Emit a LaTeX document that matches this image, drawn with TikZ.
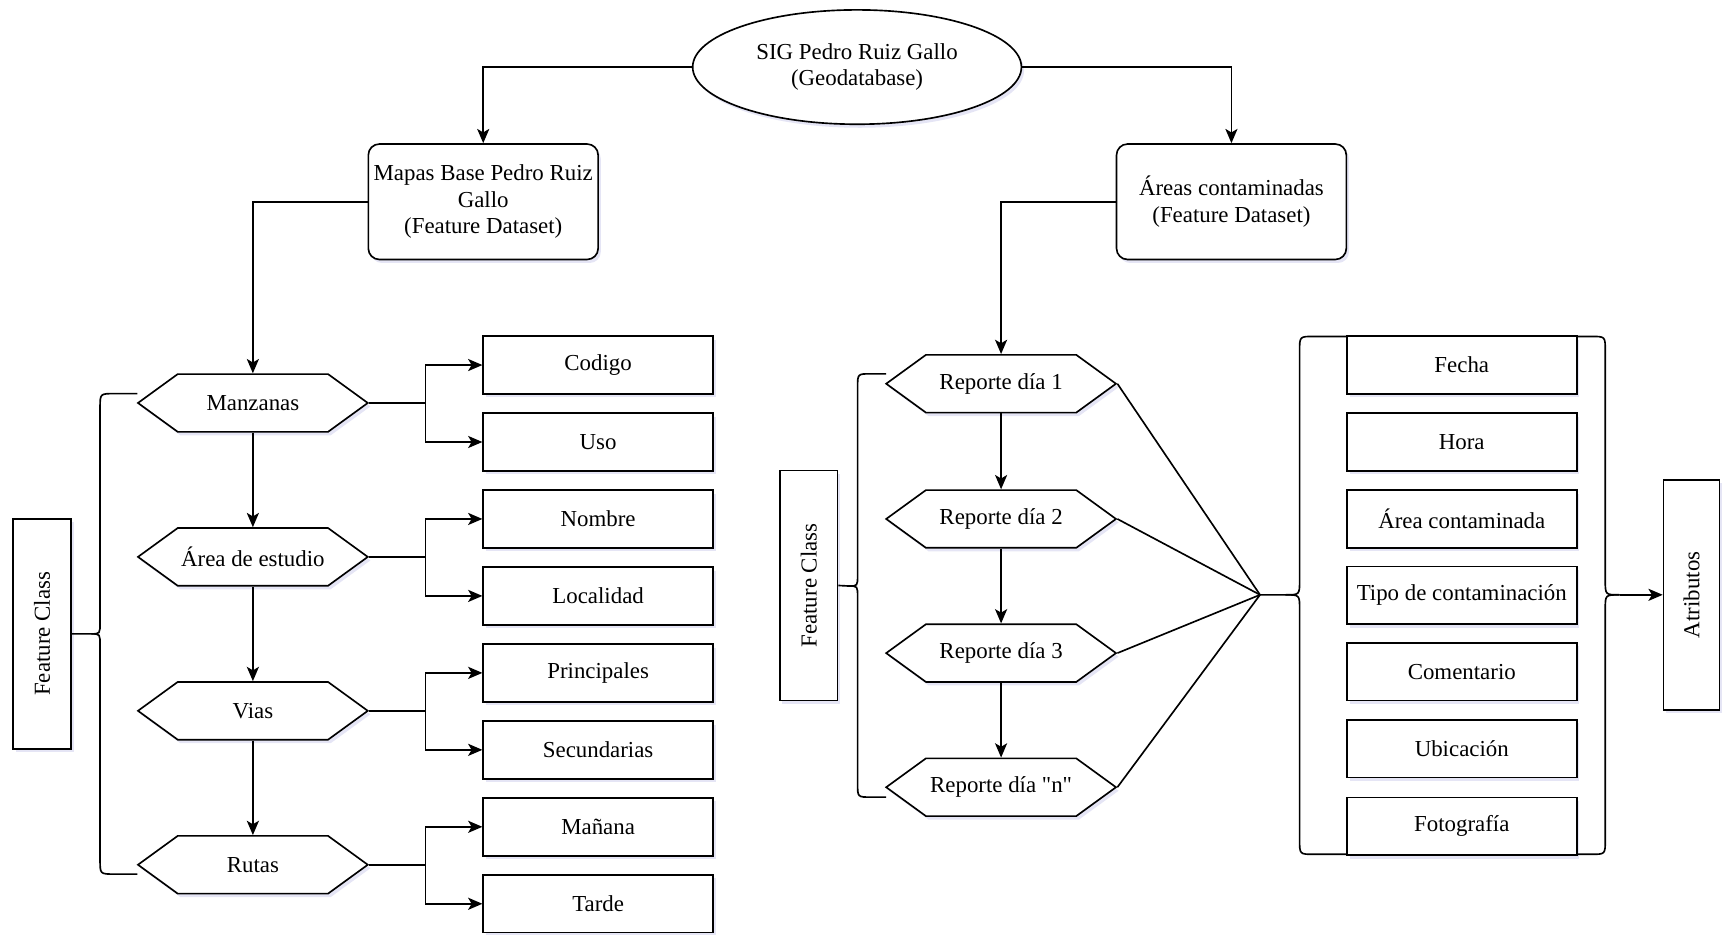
\documentclass[tikz,border=0pt]{standalone}
\usepackage{fontspec}
\setmainfont{Liberation Serif}
\usepackage{graphicx}
\usetikzlibrary{shapes.geometric,shapes.symbols,arrows.meta,shadows,calc}
\begin{document}
\begin{tikzpicture}[x=0.5pt,y=-0.5pt,
  font=\fontsize{10.4pt}{12pt}\selectfont,
  shd/.style={drop shadow={shadow xshift=1.2pt,shadow yshift=-1.6pt,fill=black!40!blue!25,opacity=0.4}},
  base/.style={draw=black,line width=0.75pt,fill=white,shd,inner sep=1pt,align=center},
  ell/.style={base,ellipse,minimum width=149.5pt,minimum height=52pt},
  dset/.style={base,rectangle,rounded corners=5pt,minimum width=104.5pt,minimum height=52.5pt},
  hexa/.style={base,signal,signal to=west and east,signal pointer angle=72,minimum width=104.5pt,minimum height=26.25pt},
  attr/.style={base,rectangle,minimum width=104.5pt,minimum height=26.25pt},
  vbox/.style={base,rectangle,minimum width=26.25pt,minimum height=104.5pt},
  link/.style={draw=black,line width=0.75pt},
  arr/.style={link,-{Stealth[length=6.5pt,width=5.5pt,inset=1.6pt]}},
]
\useasboundingbox (0,0) rectangle (1568,850);

% top level
\node[ell] (sig) at (779.5,61) {SIG Pedro Ruiz Gallo\\(Geodatabase)};
\node[dset] (mapas) at (439.5,183.5) {Mapas Base Pedro Ruiz\\Gallo\\(Feature Dataset)};
\node[dset] (areas) at (1120,183.5) {Áreas contaminadas\\(Feature Dataset)};

% left feature classes
\node[hexa] (m1) at (230,366.5) {Manzanas};
\node[hexa] (m2) at (230,506.5) {Área de estudio};
\node[hexa] (m3) at (230,646.5) {Vias};
\node[hexa] (m4) at (230,786.5) {Rutas};

\node[attr] (a1) at (544,332) {Codigo};
\node[attr] (a2) at (544,402) {Uso};
\node[attr] (a3) at (544,472) {Nombre};
\node[attr] (a4) at (544,542) {Localidad};
\node[attr] (a5) at (544,612) {Principales};
\node[attr] (a6) at (544,682) {Secundarias};
\node[attr] (a7) at (544,752) {Mañana};
\node[attr] (a8) at (544,822) {Tarde};

\node[vbox] (fc1) at (38.25,576.5) {\rotatebox{90}{Feature Class}};

% right feature classes
\node[hexa] (r1) at (910.5,349) {Reporte día 1};
\node[hexa] (r2) at (910.5,472) {Reporte día 2};
\node[hexa] (r3) at (910.5,594) {Reporte día 3};
\node[hexa] (r4) at (910.5,716) {Reporte día \textquotedbl n\textquotedbl};

\node[vbox] (fc2) at (735.5,532.5) {\rotatebox{90}{Feature Class}};

\node[attr] (b1) at (1329.5,332) {Fecha};
\node[attr] (b2) at (1329.5,402) {Hora};
\node[attr] (b3) at (1329.5,472) {Área contaminada};
\node[attr] (b4) at (1329.5,541.5) {Tipo de contaminación};
\node[attr] (b5) at (1329.5,611) {Comentario};
\node[attr] (b6) at (1329.5,681) {Ubicación};
\node[attr] (b7) at (1329.5,751.5) {Fotografía};

\node[vbox,minimum width=25.5pt] (atr) at (1538.5,541) {\rotatebox{90}{Atributos}};

\coordinate (elbowL) at (387,0);
\coordinate (conv) at (1146,541);
\coordinate (cusp1) at (83,576.5);
\coordinate (cusp2) at (772,533);
\coordinate (cusp3) at (1169,541);
\coordinate (cusp4) at (1473,541);

% top connectors
\draw[arr] (sig.west) -| (mapas.north);
\draw[arr] (sig.east) -| (areas.north);
\draw[arr] (mapas.west) -| (m1.north);
\draw[arr] (areas.west) -| (r1.north);

% vertical chains
\draw[arr] (m1.south) -- (m2.north);
\draw[arr] (m2.south) -- (m3.north);
\draw[arr] (m3.south) -- (m4.north);
\draw[arr] (r1.south) -- (r2.north);
\draw[arr] (r2.south) -- (r3.north);
\draw[arr] (r3.south) -- (r4.north);

% hex -> attribute boxes
\foreach \h/\u/\l in {m1/a1/a2, m2/a3/a4, m3/a5/a6, m4/a7/a8}{
  \draw[link] (\h.east) -- (\h.east -| elbowL);
  \draw[arr] (\h.east -| elbowL) |- (\u.west);
  \draw[arr] (\h.east -| elbowL) |- (\l.west);
}

% converging lines
\foreach \r in {r1,r2,r3,r4}{ \draw[link] (\r.east) -- (conv); }

% brace 1 (left feature class)
\draw[link] (fc1.east) -- (cusp1) .. controls (91,576.5) .. (91,566) -- (91,371) .. controls (91,358) .. (104,358) -- (125,358);
\draw[link] (cusp1) .. controls (91,576.5) .. (91,587) -- (91,782) .. controls (91,795) .. (104,795) -- (125,795);

% brace 2 (right feature class)
\draw[link] (fc2.east) -- (cusp2) .. controls (780,533) .. (780,523) -- (780,352) .. controls (780,340) .. (792,340) -- (806,340);
\draw[link] (cusp2) .. controls (780,533) .. (780,543) -- (780,713) .. controls (780,725) .. (792,725) -- (806,725);

% brace 3 (attributes, left)
\draw[link] (conv) -- (cusp3) .. controls (1182,541) .. (1182,528) -- (1182,319) .. controls (1182,306) .. (1195,306) -- (1225,306);
\draw[link] (cusp3) .. controls (1182,541) .. (1182,554) -- (1182,764) .. controls (1182,777) .. (1195,777) -- (1225,777);

% brace 4 (attributes, right)
\draw[link] (1434,306) -- (1447,306) .. controls (1460,306) .. (1460,319) -- (1460,528) .. controls (1460,541) .. (cusp4);
\draw[link] (1434,777) -- (1447,777) .. controls (1460,777) .. (1460,764) -- (1460,554) .. controls (1460,541) .. (cusp4);
\draw[arr] (cusp4) -- (atr.west);

\end{tikzpicture}
\end{document}
